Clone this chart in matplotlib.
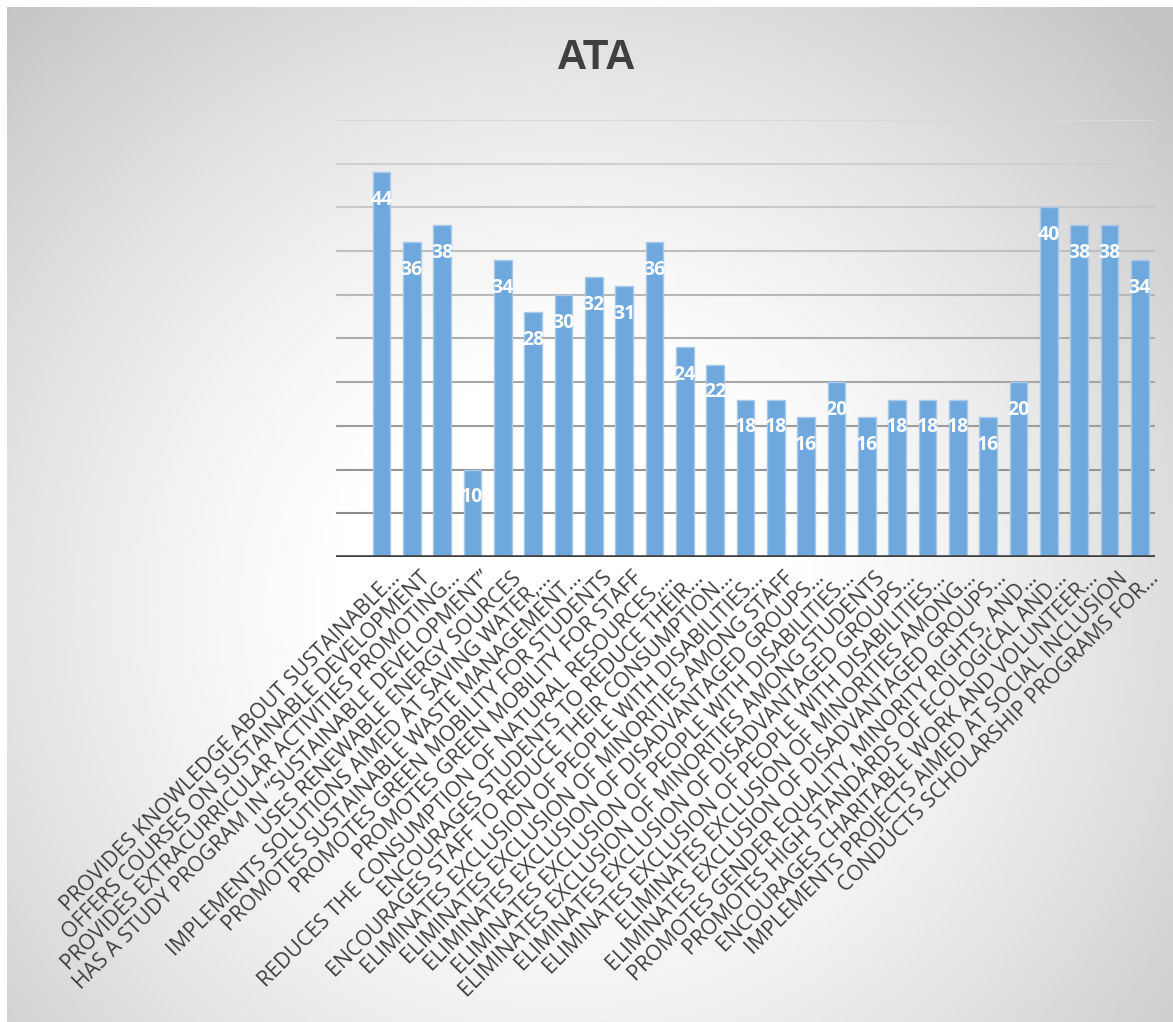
import numpy as np
import matplotlib.pyplot as plt
import matplotlib.transforms as mtransforms

categories = [
    "PROVIDES KNOWLEDGE ABOUT SUSTAINABLE…",
    "OFFERS COURSES ON SUSTAINABLE DEVELOPMENT",
    "PROVIDES EXTRACURRICULAR ACTIVITIES PROMOTING…",
    "HAS A STUDY PROGRAM IN “SUSTAINABLE DEVELOPMENT”",
    "USES RENEWABLE ENERGY SOURCES",
    "IMPLEMENTS SOLUTIONS AIMED AT SAVING WATER,…",
    "PROMOTES SUSTAINABLE WASTE MANAGEMENT…",
    "PROMOTES GREEN MOBILITY FOR STUDENTS",
    "PROMOTES GREEN MOBILITY FOR STAFF",
    "REDUCES THE CONSUMPTION OF NATURAL RESOURCES,…",
    "ENCOURAGES STUDENTS TO REDUCE THEIR…",
    "ENCOURAGES STAFF TO REDUCE THEIR CONSUMPTION…",
    "ELIMINATES EXCLUSION OF PEOPLE WITH DISABILITIES…",
    "ELIMINATES EXCLUSION OF MINORITIES AMONG STAFF",
    "ELIMINATES EXCLUSION OF DISADVANTAGED GROUPS…",
    "ELIMINATES EXCLUSION OF PEOPLE WITH DISABILITIES…",
    "ELIMINATES EXCLUSION OF MINORITIES AMONG STUDENTS",
    "ELIMINATES EXCLUSION OF DISADVANTAGED GROUPS…",
    "ELIMINATES EXCLUSION OF PEOPLE WITH DISABILITIES…",
    "ELIMINATES EXCLUSION OF MINORITIES AMONG…",
    "ELIMINATES EXCLUSION OF DISADVANTAGED GROUPS…",
    "PROMOTES GENDER EQUALITY, MINORITY RIGHTS, AND…",
    "PROMOTES HIGH STANDARDS OF ECOLOGICAL AND…",
    "ENCOURAGES CHARITABLE WORK AND VOLUNTEER…",
    "IMPLEMENTS PROJECTS AIMED AT SOCIAL INCLUSION",
    "CONDUCTS SCHOLARSHIP PROGRAMS FOR…",
]
values = [44, 36, 38, 10, 34, 28, 30, 32, 31, 36, 24, 22, 18,
          18, 16, 20, 16, 18, 18, 18, 16, 20, 40, 38, 38, 34]
title = "ATA"

W, H = 1173, 1022
fig = plt.figure(figsize=(W / 100, H / 100), dpi=100)
fig.patch.set_facecolor('white')

# radial gradient background (white centre, grey edges)
bg = fig.add_axes([7 / W, 0, 1 - 7 / W, 1 - 7 / H], zorder=0)
yy, xx = np.mgrid[0:H, 0:W]
d = np.hypot(xx - 560, yy - 600) / 820
shade = 1 - 0.23 * np.clip((d - 0.25) / 0.75, 0, 1) ** 1.3
bg.imshow(shade, cmap='gray', vmin=0, vmax=1, aspect='auto')
bg.axis('off')

ax = fig.add_axes([336 / W, 1 - 557 / H, (1155 - 336) / W, (557 - 120) / H], zorder=1)
ax.patch.set_alpha(0)

x = np.arange(len(values))
ax.bar(x, values, width=0.58, color='#6FA8DC', edgecolor='#a9c9ea',
       linewidth=1, zorder=3)
ax.set_xlim(-1.5, 25.5)
ax.set_ylim(0, 50)

# gridlines get darker toward the bottom
grid_y = np.arange(5, 51, 5)
for gy in grid_y:
    g = 0.55 + 0.3 * (gy - 5) / 45
    ax.axhline(gy, color=(g, g, g), lw=1.5, zorder=1)
ax.axhline(0, color='#404040', lw=2.6, zorder=4)

for s in ax.spines.values():
    s.set_visible(False)
ax.set_yticks([])
ax.tick_params(axis='x', length=0, pad=5)
ax.set_xticks(x)
ax.set_xticklabels(categories, rotation=45, ha='right', rotation_mode='anchor',
                   fontsize=15.3, color='#404040', family='Open Sans')
shift = mtransforms.ScaledTranslation(8 / 100, -4 / 100, fig.dpi_scale_trans)
for lab in ax.get_xticklabels():
    lab.set_transform(lab.get_transform() + shift)

for xi, v in zip(x, values):
    ax.annotate(str(v), (xi, v), xytext=(0, -20), textcoords='offset points',
                ha='center', va='center', color='white', fontweight='bold',
                fontsize=14, family='Open Sans', zorder=5)

fig.text(597 / W, 1 - 58 / H, title, ha='center', va='center', fontsize=30,
         fontweight='bold', family='Liberation Sans', color='#404040')

fig.savefig('out.png', dpi=100)
